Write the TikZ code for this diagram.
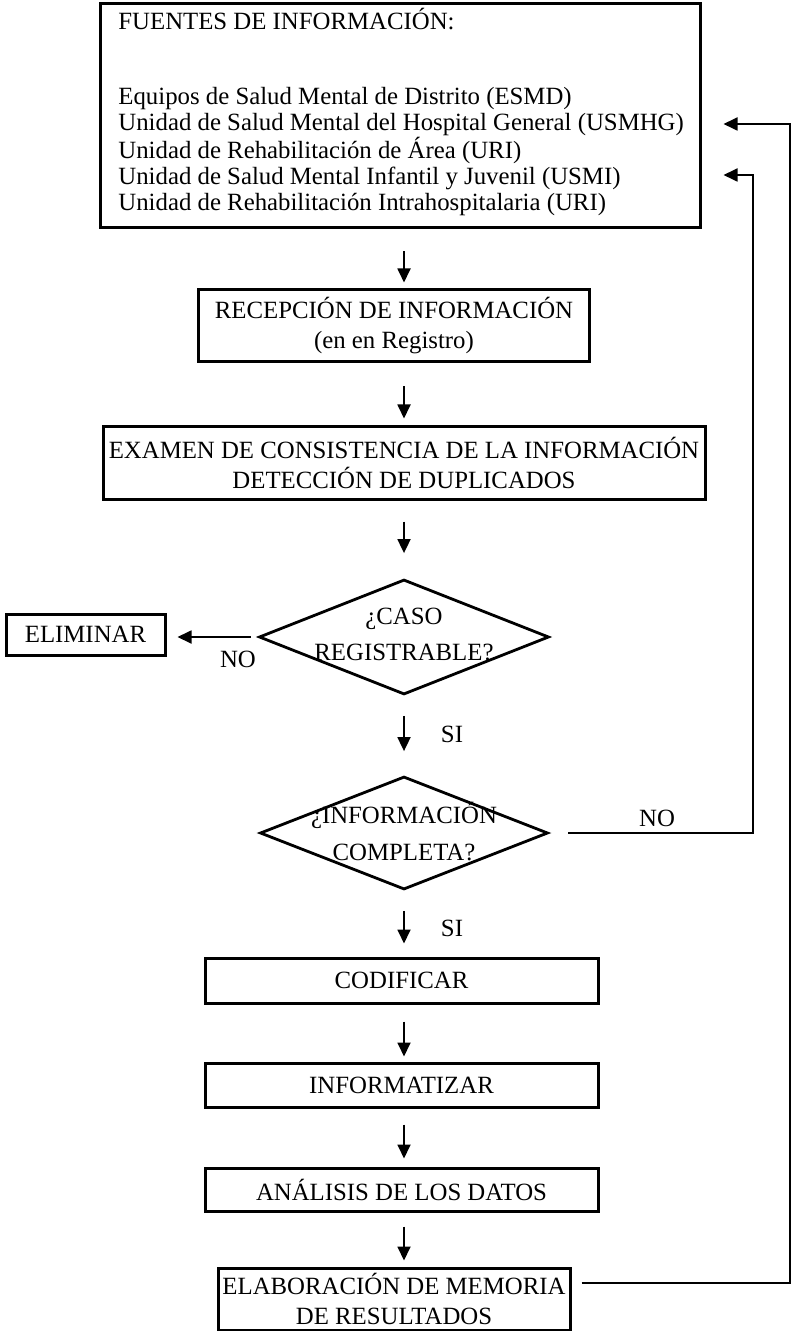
\documentclass[tikz,border=0pt]{standalone}
\usepackage{fontspec}
\setmainfont{Liberation Serif}
\usetikzlibrary{arrows.meta,shapes.geometric}
\begin{document}
\begin{tikzpicture}[x=0.5pt,y=-0.5pt,
  font=\fontsize{12.4}{15}\selectfont,
  box/.style={draw, line width=1.5pt, inner sep=0pt, align=center},
  arr/.style={-{Triangle[length=7pt,width=6.5pt]}, line width=0.9pt},
  decision/.style={draw, diamond, line width=1.4pt, inner sep=0pt, minimum width=145pt, minimum height=57.5pt},
  lbl/.style={inner sep=0pt, align=center}]
\useasboundingbox (0,0) rectangle (792,1331);

% boxes
\node[box, minimum width=300pt, minimum height=112pt] (top) at (400,116) {};
\node[lbl, anchor=base west, align=left, font=\fontsize{12.4}{13}\selectfont] (topt) at (118,211)
  {FUENTES DE INFORMACIÓN:\\[24.5pt]
   Equipos de Salud Mental de Distrito (ESMD)\\
   Unidad de Salud Mental del Hospital General (USMHG)\\
   Unidad de Rehabilitación de Área (URI)\\
   Unidad de Salud Mental Infantil y Juvenil (USMI)\\
   Unidad de Rehabilitación Intrahospitalaria (URI)};

\node[box, minimum width=195.5pt, minimum height=36pt] (rec) at (394,326)
  {RECEPCIÓN DE INFORMACIÓN\\(en en Registro)};
\node[box, minimum width=301pt, minimum height=36pt] (exam) at (404,463)
  {EXAMEN DE CONSISTENCIA DE LA INFORMACIÓN\\DETECCIÓN DE DUPLICADOS};

\node[decision] (d1) at (404,637) {};
\node[lbl] (d1t) at (404,634) {¿CASO\\[3pt]REGISTRABLE?};
\node[box, minimum width=79.5pt, minimum height=20.5pt] (elim) at (85.5,634.5) {ELIMINAR};

\node[decision, minimum width=144pt, minimum height=56.5pt] (d2) at (404,833) {};
\node[lbl] (d2t) at (404,832) {¿INFORMACIÓN\\[3.5pt]COMPLETA?};

\node[box, minimum width=196.5pt, minimum height=22.5pt] (codif) at (401.5,980.5) {CODIFICAR};
\node[box, minimum width=196.5pt, minimum height=22pt] (inform) at (401.5,1085) {INFORMATIZAR};
\node[box, minimum width=196.5pt, minimum height=21.5pt] (anal) at (401.5,1189.5) {ANÁLISIS DE LOS DATOS};
\node[box, minimum width=176pt, minimum height=31pt] (elab) at (394,1299)
  {ELABORACIÓN DE MEMORIA\\DE RESULTADOS};

% labels
\node[lbl] (no1) at (238,659) {NO};
\node[lbl] (si1) at (452,734) {SI};
\node[lbl] (si2) at (452,928) {SI};
\node[lbl] (no2) at (657,818) {NO};

% helper coordinates
\coordinate (ax) at (404,0);
\coordinate (r1) at (753,175);
\coordinate (r2) at (790,124);
\coordinate (r3) at (790,1283);

% vertical flow
\draw[arr, shorten <=11pt, shorten >=3pt] (top.south -| ax) -- (rec.north -| ax);
\draw[arr, shorten <=11.5pt, shorten >=3.5pt] (rec.south -| ax) -- (exam.north -| ax);
\draw[arr, shorten <=10.5pt, shorten >=12.5pt] (exam.south -| ax) -- (d1.north -| ax);
\draw[arr, shorten <=10pt, shorten >=12pt] (d1.south) -- (d2.north);
\draw[arr, shorten <=10pt, shorten >=6.5pt] (d2.south) -- (codif.north -| ax);
\draw[arr, shorten <=8.5pt, shorten >=2.5pt] (codif.south -| ax) -- (inform.north -| ax);
\draw[arr, shorten <=8pt, shorten >=4pt] (inform.south -| ax) -- (anal.north -| ax);
\draw[arr, shorten <=7pt, shorten >=3pt] (anal.south -| ax) -- (elab.north -| ax);

% side branches
\draw[arr, shorten <=3.5pt, shorten >=5.5pt] (d1.west) -- (d1.west -| elim.east);
\draw[arr, shorten <=9.5pt, shorten >=11pt] (d2.east) -| (r1) -- (top.east |- r1);
\draw[arr, shorten <=5pt, shorten >=11pt] (elab.east |- r3) -- (r3) -- (r2) -- (top.east |- r2);
\end{tikzpicture}
\end{document}
